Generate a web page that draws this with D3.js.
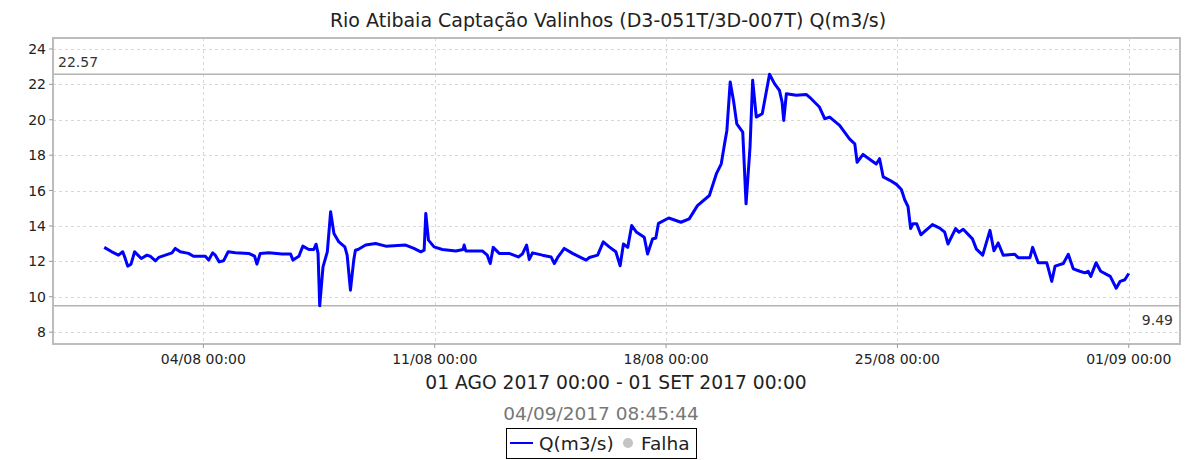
<!DOCTYPE html>
<html>
<head>
    <meta charset="utf-8">
    <title>Rio Atibaia Captação Valinhos</title>
    <script src="https://d3js.org/d3.v7.min.js"></script>
    <style>
        body {
            margin: 0;
            padding: 0;
            background: white;
            font-family: "DejaVu Sans", sans-serif;
        }
        .grid line {
            stroke: #d8d8d8;
            stroke-width: 1;
            stroke-dasharray: 3,3;
        }
        .tick-label {
            font-size: 14px;
            fill: #222;
        }
        .marker-line {
            stroke: #b4b4b4;
            stroke-width: 1.5;
        }
        .marker-label {
            font-size: 14px;
            fill: #333;
        }
        .flow-line {
            fill: none;
            stroke: #0000ff;
            stroke-width: 3;
            stroke-linejoin: round;
        }
    </style>
</head>
<body>
    <svg id="chart" width="1189" height="460"></svg>
    <script>
        // days since 01/08/2017 00:00 and flow in m3/s
        const days = [
            0.00, 0.23, 0.43, 0.56, 0.62, 0.71, 0.81, 0.92, 1.02, 1.12,
            1.29, 1.39, 1.55, 1.65, 1.85, 2.05, 2.15, 2.30, 2.55, 2.70,
            3.06, 3.16, 3.28, 3.36, 3.48, 3.61, 3.75, 3.97, 4.37, 4.55,
            4.62, 4.72, 4.98, 5.38, 5.64, 5.71, 5.89, 6.01, 6.19, 6.34,
            6.41, 6.47, 6.52, 6.62, 6.75, 6.85, 6.95, 7.10, 7.28, 7.35,
            7.45, 7.55, 7.60, 7.68, 7.91, 8.21, 8.52, 9.12, 9.37, 9.58,
            9.68, 9.73, 9.81, 9.98, 10.23, 10.64, 10.86, 10.89, 10.94, 11.44,
            11.59, 11.68, 11.77, 11.95, 12.25, 12.53, 12.65, 12.78, 12.86, 12.96,
            13.26, 13.52, 13.62, 13.72, 13.92, 14.17, 14.58, 14.68, 14.93, 15.10,
            15.28, 15.48, 15.61, 15.71, 15.84, 15.96, 16.11, 16.34, 16.44, 16.59,
            16.69, 16.77, 17.08, 17.45, 17.70, 17.95, 18.31, 18.52, 18.67, 18.77,
            18.84, 18.94, 19.04, 19.14, 19.32, 19.42, 19.54, 19.62, 19.73, 19.91,
            20.13, 20.28, 20.43, 20.51, 20.56, 20.64, 20.94, 21.24, 21.39, 21.64,
            21.80, 21.95, 22.25, 22.55, 22.71, 22.78, 22.96, 23.21, 23.36, 23.46,
            23.57, 23.77, 23.97, 24.12, 24.22, 24.32, 24.40, 24.47, 24.58, 24.71,
            24.80, 25.06, 25.28, 25.43, 25.53, 25.76, 25.86, 25.99, 26.27, 26.39,
            26.58, 26.80, 26.92, 27.05, 27.20, 27.55, 27.65, 28.01, 28.09, 28.26,
            28.52, 28.67, 28.77, 29.02, 29.17, 29.32, 29.52, 29.67, 29.77, 29.85,
            30.01, 30.15, 30.44, 30.62, 30.74, 30.88, 31.00
        ];
        const flow = [
            12.79, 12.54, 12.35, 12.54, 12.25, 11.73, 11.84, 12.54, 12.35, 12.16,
            12.35, 12.29, 12.03, 12.22, 12.35, 12.48, 12.73, 12.54, 12.45, 12.29,
            12.29, 12.07, 12.48, 12.35, 11.97, 12.03, 12.54, 12.48, 12.45, 12.29,
            11.84, 12.45, 12.48, 12.41, 12.41, 12.07, 12.29, 12.86, 12.67, 12.67,
            12.97, 12.45, 9.49, 11.69, 12.54, 14.80, 13.58, 13.10, 12.82, 12.35,
            10.37, 12.07, 12.63, 12.67, 12.92, 13.01, 12.86, 12.92, 12.73, 12.54,
            12.63, 14.71, 13.20, 12.82, 12.67, 12.59, 12.67, 12.92, 12.59, 12.59,
            12.35, 11.88, 12.79, 12.45, 12.45, 12.25, 12.41, 12.92, 12.11, 12.48,
            12.35, 12.25, 11.88, 12.22, 12.73, 12.45, 12.07, 12.22, 12.35, 13.10,
            12.82, 12.54, 11.75, 12.98, 12.79, 14.02, 13.64, 13.36, 12.42, 13.26,
            13.32, 14.15, 14.45, 14.21, 14.40, 15.15, 15.72, 16.94, 17.51, 18.64,
            19.40, 22.13, 21.09, 19.77, 19.30, 15.25, 18.45, 22.23, 20.15, 20.34,
            22.57, 22.04, 21.66, 21.00, 19.96, 21.47, 21.38, 21.43, 21.19, 20.72,
            20.06, 20.15, 19.68, 18.92, 18.64, 17.60, 18.04, 17.70, 17.50, 17.80,
            16.77, 16.58, 16.35, 16.06, 15.48, 15.10, 13.85, 14.13, 14.13, 13.50,
            13.65, 14.08, 13.88, 13.65, 12.98, 13.85, 13.65, 13.81, 13.27, 12.69,
            12.35, 13.75, 12.60, 13.04, 12.35, 12.40, 12.21, 12.21, 12.79, 11.92,
            11.92, 10.87, 11.73, 11.88, 12.40, 11.58, 11.44, 11.35, 11.44, 11.15,
            11.92, 11.44, 11.15, 10.48, 10.87, 10.96, 11.31
        ];
        const yTicks = [8, 10, 12, 14, 16, 18, 20, 22, 24];
        const xTickDays = [3, 10, 17, 24, 31];
        const xTickLabels = ['04/08 00:00', '11/08 00:00', '18/08 00:00', '25/08 00:00', '01/09 00:00'];
        const maxValue = 22.57;
        const minValue = 9.49;

        const title = 'Rio Atibaia Captação Valinhos (D3-051T/3D-007T) Q(m3/s)';
        const periodText = '01 AGO 2017 00:00 - 01 SET 2017 00:00';
        const stampText = '04/09/2017 08:45:44';

        const svg = d3.select('#chart');
        const plot = { left: 53, top: 38, right: 1180, bottom: 344 };

        const start = new Date(2017, 7, 1);
        const toDate = d => new Date(start.getTime() + d * 86400000);

        const x = d3.scaleTime()
            .domain([toDate(-1.55), toDate(32.55)])
            .range([plot.left, plot.right]);
        const y = d3.scaleLinear()
            .domain([7.33, 24.62])
            .range([plot.bottom, plot.top]);

        // title
        svg.append('text')
            .attr('x', 608)
            .attr('y', 27)
            .attr('text-anchor', 'middle')
            .style('font-size', '19px')
            .style('fill', '#222')
            .text(title);

        // grid
        const grid = svg.append('g').attr('class', 'grid');
        grid.selectAll('.gy')
            .data(yTicks)
            .join('line')
            .attr('x1', plot.left).attr('x2', plot.right)
            .attr('y1', d => Math.round(y(d)) + 0.5)
            .attr('y2', d => Math.round(y(d)) + 0.5);
        grid.selectAll('.gx')
            .data(xTickDays)
            .join('line')
            .attr('y1', plot.top).attr('y2', plot.bottom)
            .attr('x1', d => Math.round(x(toDate(d))) + 0.5)
            .attr('x2', d => Math.round(x(toDate(d))) + 0.5);

        // min/max marker lines
        [maxValue, minValue].forEach(v => {
            svg.append('line')
                .attr('class', 'marker-line')
                .attr('x1', plot.left).attr('x2', plot.right)
                .attr('y1', y(v)).attr('y2', y(v));
        });
        svg.append('text')
            .attr('class', 'marker-label')
            .attr('x', plot.left + 5)
            .attr('y', y(maxValue) - 7)
            .text(maxValue.toFixed(2));
        svg.append('text')
            .attr('class', 'marker-label')
            .attr('x', plot.right - 7)
            .attr('y', y(minValue) + 19)
            .attr('text-anchor', 'end')
            .text(minValue.toFixed(2));

        // flow line
        const line = d3.line()
            .x((d, i) => x(toDate(days[i])))
            .y(d => y(d));
        svg.append('path')
            .datum(flow)
            .attr('class', 'flow-line')
            .attr('d', line);

        // plot border
        svg.append('rect')
            .attr('x', plot.left).attr('y', plot.top)
            .attr('width', plot.right - plot.left)
            .attr('height', plot.bottom - plot.top)
            .attr('fill', 'none')
            .attr('stroke', '#bdbdbd')
            .attr('stroke-width', 2);

        // axes
        const yAxis = svg.append('g');
        yAxis.selectAll('line')
            .data(yTicks)
            .join('line')
            .attr('x1', plot.left - 4).attr('x2', plot.left)
            .attr('y1', d => y(d)).attr('y2', d => y(d))
            .attr('stroke', '#999');
        yAxis.selectAll('text')
            .data(yTicks)
            .join('text')
            .attr('class', 'tick-label')
            .attr('x', plot.left - 7)
            .attr('y', d => y(d))
            .attr('dy', '0.36em')
            .attr('text-anchor', 'end')
            .text(d => d);

        const xAxis = svg.append('g');
        xAxis.selectAll('line')
            .data(xTickDays)
            .join('line')
            .attr('x1', d => x(toDate(d))).attr('x2', d => x(toDate(d)))
            .attr('y1', plot.bottom).attr('y2', plot.bottom + 4)
            .attr('stroke', '#999');
        xAxis.selectAll('text')
            .data(xTickDays)
            .join('text')
            .attr('class', 'tick-label')
            .attr('x', d => x(toDate(d)))
            .attr('y', plot.bottom + 20)
            .attr('text-anchor', 'middle')
            .text((d, i) => xTickLabels[i]);

        // period and timestamp
        svg.append('text')
            .attr('x', 616)
            .attr('y', 389)
            .attr('text-anchor', 'middle')
            .style('font-size', '18.7px')
            .style('fill', '#222')
            .text(periodText);
        svg.append('text')
            .attr('x', 601)
            .attr('y', 420)
            .attr('text-anchor', 'middle')
            .style('font-size', '18.5px')
            .style('fill', '#777')
            .text(stampText);

        // legend
        const legend = svg.append('g');
        legend.append('rect')
            .attr('x', 506.5).attr('y', 428.5)
            .attr('width', 190).attr('height', 30)
            .attr('fill', 'white')
            .attr('stroke', '#000');
        legend.append('line')
            .attr('x1', 510).attr('x2', 533)
            .attr('y1', 443).attr('y2', 443)
            .attr('stroke', '#0000ff')
            .attr('stroke-width', 2);
        legend.append('text')
            .attr('x', 539).attr('y', 450)
            .style('font-size', '18.5px')
            .style('fill', '#222')
            .text('Q(m3/s)');
        legend.append('circle')
            .attr('cx', 628).attr('cy', 443).attr('r', 5)
            .attr('fill', '#c4c4c4');
        legend.append('text')
            .attr('x', 641).attr('y', 450)
            .style('font-size', '18.5px')
            .style('fill', '#222')
            .text('Falha');
    </script>
</body>
</html>
